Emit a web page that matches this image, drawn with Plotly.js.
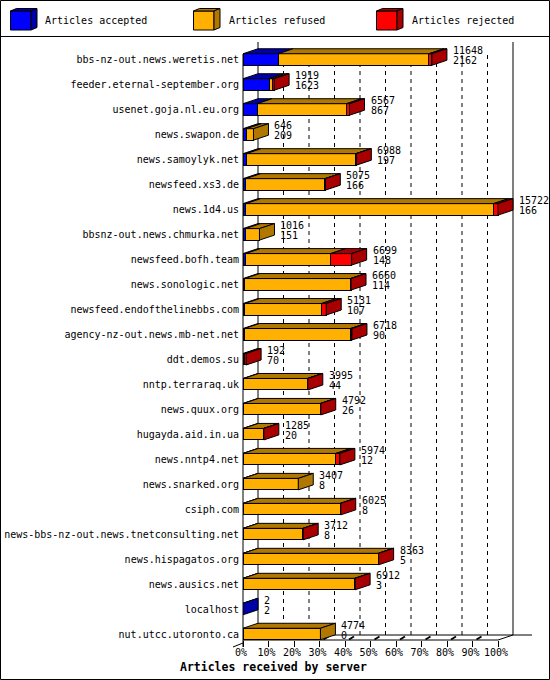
<!DOCTYPE html>
<html>
<head>
<meta charset="utf-8">
<script src="https://cdn.plot.ly/plotly-3.0.1.min.js"></script>
<style>
  html, body { margin: 0; padding: 0; background: #fff; }
  #chart { width: 550px; height: 680px; }
</style>
</head>
<body>
<div id="chart"></div>
<script>
const FONT = "DejaVu Sans Mono";

const servers = [
  "bbs-nz-out.news.weretis.net", "feeder.eternal-september.org", "usenet.goja.nl.eu.org",
  "news.swapon.de", "news.samoylyk.net", "newsfeed.xs3.de", "news.1d4.us",
  "bbsnz-out.news.chmurka.net", "newsfeed.bofh.team", "news.sonologic.net",
  "newsfeed.endofthelinebbs.com", "agency-nz-out.news.mb-net.net", "ddt.demos.su",
  "nntp.terraraq.uk", "news.quux.org", "hugayda.aid.in.ua", "news.nntp4.net",
  "news.snarked.org", "csiph.com", "news-bbs-nz-out.news.tnetconsulting.net",
  "news.hispagatos.org", "news.ausics.net", "localhost", "nut.utcc.utoronto.ca"
];
const offered  = [11648, 1919, 6567, 646, 6988, 5075, 15722, 1016, 6699, 6660, 5131, 6718, 192, 3995, 4792, 1285, 5974, 3407, 6025, 3712, 8363, 6912, 2, 4774];
const accepted = [2162, 1623, 867, 209, 197, 166, 166, 151, 148, 114, 107, 90, 70, 44, 26, 20, 12, 8, 8, 8, 5, 3, 2, 0];
const refused  = [9296, 210, 5515, 437, 6761, 4884, 15286, 865, 5261, 6516, 4724, 6538, 42, 3926, 4746, 1255, 5712, 3399, 5992, 3684, 8333, 6889, 0, 4774];
const rejected = [190, 86, 185, 0, 30, 25, 270, 0, 1290, 30, 300, 90, 80, 25, 20, 10, 250, 0, 25, 20, 25, 20, 0, 0];

const seriesNames = ["Articles accepted", "Articles refused", "Articles rejected"];
const frontColors = ["#0000ff", "#ffb000", "#ff0000"];
const darkColors = ["#0000a8", "#b07800", "#a80000"];
const tickPct = [0, 10, 20, 30, 40, 50, 60, 70, 80, 90, 100];

// page geometry
const W = 550, H = 680, L = 243, R = 1, T = 42, B = 40;
const plotW = W - L - R, plotH = H - T - B;
const X_MAX = 120;
const Y_TOP = -0.7006, Y_BOT = 23.24;
const pxPerX = plotW / X_MAX;
const pxPerY = plotH / (Y_BOT - Y_TOP);
const DX = 15 / pxPerX, DY = 5 / pxPerY;
const BW = 0.46;

const maxTotal = Math.max(...offered);
const pct = (v) => v / maxTotal * 100;
const idx = servers.map((_, i) => i);
const series = [accepted, refused, rejected];

// pixel -> paper helpers for frame decorations
const ppx = (px) => (px - L) / plotW;
const ppy = (py) => (H - B - py) / plotH;
const dpx = (x) => x / X_MAX;

const traces = series.map((vals, s) => ({
  type: "bar",
  orientation: "h",
  name: seriesNames[s],
  y: idx,
  x: vals.map(pct),
  width: BW,
  marker: { color: frontColors[s], line: { color: "#000", width: 1 } },
  showlegend: false,
  hoverinfo: "skip",
}));

const shapes = [];
const line = (x0, y0, x1, y1, extra) => shapes.push(Object.assign({
  type: "line", xref: "paper", yref: "paper", x0, y0, x1, y1,
  line: { color: "#000", width: 1 }, layer: "below",
}, extra || {}));

// back wall and grid
line(dpx(DX), ppy(635), dpx(DX), ppy(42));
line(dpx(100 + DX), ppy(635), dpx(100 + DX), ppy(42));
for (let k = 1; k <= 9; k++) {
  line(dpx(10 * k + DX), ppy(635), dpx(10 * k + DX), ppy(51), { line: { color: "#000", width: 1, dash: "4px,4px" } });
}
// front wall, floor
line(0, ppy(647), 0, ppy(54));
line(0, ppy(640), dpx(100), ppy(640));
line(dpx(DX), ppy(635), ppx(532), ppy(635));
line(dpx(100), ppy(640), dpx(100 + DX), ppy(635));
line(ppx(233), ppy(647), 0, ppy(643));
for (let k = 1; k <= 9; k++) {
  line(dpx(10 * k) + 4 / plotW, ppy(639.5), dpx(10 * k) + 9 / plotW, ppy(636.5), { line: { color: "#000", width: 2 } });
}

// 3D faces of bars
const face = (pts, fill) => shapes.push({
  type: "path", xref: "x", yref: "y", layer: "above",
  path: "M" + pts.map((p) => p[0] + "," + p[1]).join("L") + "Z",
  fillcolor: fill, line: { color: "#000", width: 1 },
});
idx.forEach((i) => {
  const yt = i - BW / 2, yb = i + BW / 2;
  let x0 = 0, last = -1;
  series.forEach((vals, s) => {
    const w = pct(vals[i]);
    if (vals[i] > 0) {
      face([[x0, yt], [x0 + w, yt], [x0 + w + DX, yt - DY], [x0 + DX, yt - DY]], darkColors[s]);
      last = s;
    }
    x0 += w;
  });
  if (last >= 0) {
    face([[x0, yt], [x0 + DX, yt - DY], [x0 + DX, yb - DY], [x0, yb]], darkColors[last]);
  }
});

// number labels
const annotations = [];
idx.forEach((i) => {
  const xe = pct(accepted[i] + refused[i] + rejected[i]) + DX;
  annotations.push({ x: xe, y: i, xref: "x", yref: "y", text: String(offered[i]), showarrow: false,
    xanchor: "left", yanchor: "middle", xshift: 4, yshift: 9, font: { family: FONT, size: 10, color: "#000" } });
  annotations.push({ x: xe, y: i, xref: "x", yref: "y", text: String(accepted[i]), showarrow: false,
    xanchor: "left", yanchor: "middle", xshift: 4, yshift: -1, font: { family: FONT, size: 10, color: "#000" } });
});

// legend row
const legendX = [10.5, 193.5, 376.5];
const legendText = [43, 227, 410];
seriesNames.forEach((name, s) => {
  const x = legendX[s];
  const p = (pts) => "M" + pts.map((q) => ppx(q[0]) + "," + ppy(q[1])).join("L") + "Z";
  shapes.push({ type: "path", xref: "paper", yref: "paper", layer: "above",
    path: p([[x, 11], [x + 20.5, 11], [x + 20.5, 30], [x, 30]]), fillcolor: frontColors[s], line: { color: "#000", width: 1 } });
  shapes.push({ type: "path", xref: "paper", yref: "paper", layer: "above",
    path: p([[x, 11], [x + 20.5, 11], [x + 26.5, 8.5], [x + 6, 8.5]]), fillcolor: darkColors[s], line: { color: "#000", width: 1 } });
  shapes.push({ type: "path", xref: "paper", yref: "paper", layer: "above",
    path: p([[x + 20.5, 11], [x + 26.5, 8.5], [x + 26.5, 27.5], [x + 20.5, 30]]), fillcolor: darkColors[s], line: { color: "#000", width: 1 } });
  annotations.push({ x: ppx(legendText[s]), y: ppy(20), xref: "paper", yref: "paper", text: name, showarrow: false,
    xanchor: "left", yanchor: "middle", font: { family: FONT, size: 10, color: "#000" } });
});

// frame
shapes.push({ type: "rect", xref: "paper", yref: "paper", layer: "above",
  x0: ppx(0.5), y0: ppy(679.5), x1: ppx(549.5), y1: ppy(0.5), line: { color: "#000", width: 1 } });
line(ppx(0), ppy(36.5), ppx(549.5), ppy(36.5), { layer: "above" });

annotations.push({ x: ppx(273), y: ppy(667), xref: "paper", yref: "paper", text: "Articles received by server",
  showarrow: false, xanchor: "center", yanchor: "middle", font: { family: FONT, size: 11.5, color: "#000", weight: "bold" } });

const layout = {
  width: W, height: H,
  margin: { l: L, r: R, t: T, b: B, pad: 0 },
  paper_bgcolor: "#fff", plot_bgcolor: "#fff",
  barmode: "stack",
  bargap: 0,
  font: { family: FONT, size: 10, color: "#000" },
  xaxis: {
    range: [0, X_MAX], tickvals: tickPct, ticktext: tickPct.map((v) => v + "%"),
    ticks: "outside", ticklen: 6, tickcolor: "#000", tickwidth: 1,
    showgrid: false, zeroline: false, showline: false, fixedrange: true,
    tickfont: { family: FONT, size: 10, color: "#000" }, ticklabelshift: -2, ticklabelstandoff: -3,
  },
  yaxis: {
    range: [Y_BOT, Y_TOP], tickvals: idx, ticktext: servers,
    ticks: "", showgrid: false, zeroline: false, showline: false, fixedrange: true,
    tickfont: { family: FONT, size: 10, color: "#000" }, ticklabelstandoff: 3,
  },
  shapes, annotations,
  showlegend: false,
};

Plotly.newPlot("chart", traces, layout, { displayModeBar: false, staticPlot: true });
</script>
</body>
</html>
